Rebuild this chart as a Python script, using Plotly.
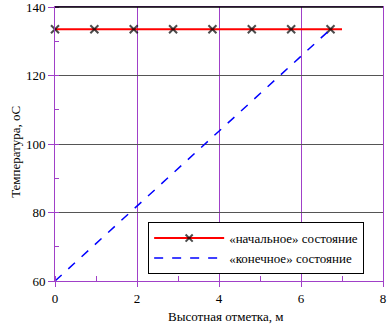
import plotly.graph_objects as go

# data
x_initial = [0, 0.96, 1.92, 2.88, 3.84, 4.8, 5.76, 6.72, 7.0]
t_initial = [133.5, 133.5, 133.5, 133.5, 133.5, 133.5, 133.5, 133.5, 133.5]
x_final = [0, 6.72]
t_final = [60, 133.5]
label_initial = "«начальное» состояние"
label_final = "«конечное» состояние"
x_title = "Высотная отметка, м"
y_title = "Температура, оС"

FONT = "Liberation Serif"
PURPLE = "#a040c8"

marker_sizes = [8] * (len(x_initial) - 1) + [0]

fig = go.Figure()
fig.add_trace(go.Scatter(
    x=x_initial, y=t_initial, name=label_initial, mode="lines+markers",
    line=dict(color="#ff0000", width=2),
    marker=dict(symbol="x-thin", size=marker_sizes, color="black",
                line=dict(color="black", width=2)),
    cliponaxis=False,
))
fig.add_trace(go.Scatter(
    x=x_final, y=t_final, name=label_final, mode="lines",
    line=dict(color="#0000ff", width=1.5, dash="dash"),
))

fig.update_layout(
    width=388, height=326,
    margin=dict(l=55, r=5, t=7, b=45),
    paper_bgcolor="white", plot_bgcolor="white",
    font=dict(family=FONT, size=13, color="black"),
    showlegend=True,
    legend=dict(x=0.284, y=0.215, xanchor="left", yanchor="top",
                bgcolor="white", bordercolor="black", borderwidth=1,
                font=dict(family=FONT, size=13), tracegroupgap=0,
                itemwidth=70),
)
fig.update_xaxes(
    range=[0, 8], dtick=2, tick0=0, automargin=False, ticklabeloverflow="allow",
    showline=True, linecolor=PURPLE, linewidth=1, mirror=True,
    showgrid=True, gridcolor=PURPLE, gridwidth=1,
    ticks="outside", ticklen=5, tickcolor=PURPLE,
    minor=dict(dtick=1, ticks="inside", ticklen=5, tickcolor=PURPLE, showgrid=False),
    zeroline=False,
)
fig.update_yaxes(
    range=[60, 140], dtick=20, tick0=60, automargin=False, ticklabeloverflow="allow",
    showline=True, linecolor=PURPLE, linewidth=1, mirror=True,
    showgrid=True, gridcolor="#555555", gridwidth=1,
    ticks="outside", ticklen=6, tickcolor=PURPLE,
    minor=dict(dtick=10, ticks="inside", ticklen=4, tickcolor=PURPLE, showgrid=False),
    zeroline=False,
)
fig.add_annotation(text=x_title, xref="paper", yref="paper", x=0.52, y=-0.128,
                   xanchor="center", yanchor="middle", showarrow=False,
                   font=dict(family=FONT, size=13))
fig.add_annotation(text=y_title, xref="paper", yref="paper", x=-0.12, y=0.47,
                   xanchor="center", yanchor="middle", showarrow=False, textangle=-90,
                   font=dict(family=FONT, size=13))
# black top border
fig.add_shape(type="line", xref="paper", yref="paper", x0=0, x1=1, y0=1, y1=1,
              line=dict(color="black", width=1.5))

fig.write_html("out.html", config={"displayModeBar": False},
               post_script="document.body.style.margin='0';")
